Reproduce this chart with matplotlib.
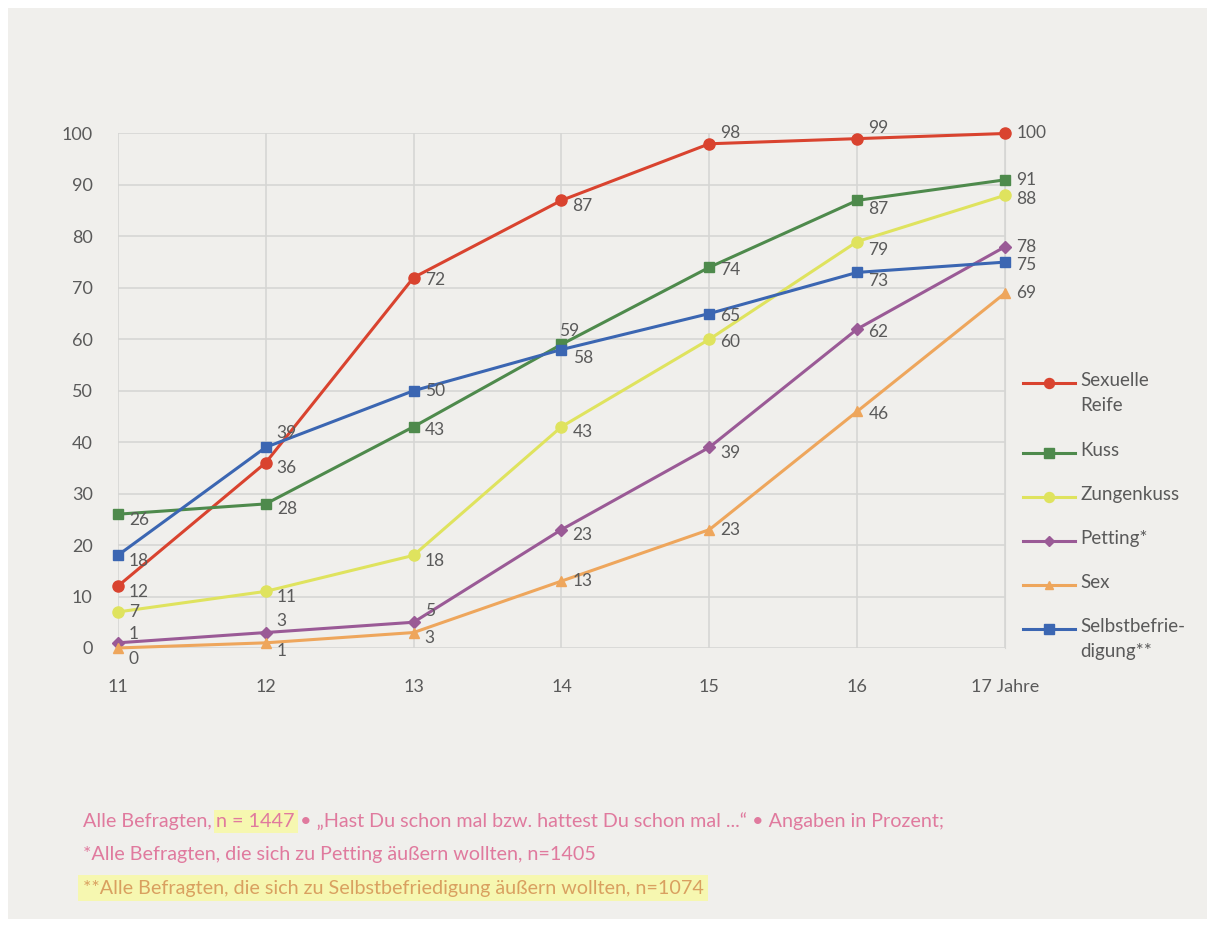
import matplotlib
matplotlib.use("Agg")
import matplotlib.pyplot as plt
from matplotlib.patches import Rectangle
from matplotlib.lines import Line2D

plt.rcParams['font.family'] = ['Lato', 'DejaVu Sans']

ages = [11, 12, 13, 14, 15, 16, 17]
age_labels = ['11', '12', '13', '14', '15', '16', '17 Jahre']

reife = [12, 36, 72, 87, 98, 99, 100]
kuss = [26, 28, 43, 59, 74, 87, 91]
zungenkuss = [7, 11, 18, 43, 60, 79, 88]
petting = [1, 3, 5, 23, 39, 62, 78]
sex = [0, 1, 3, 13, 23, 46, 69]
selbst = [18, 39, 50, 58, 65, 73, 75]

names = ['Sexuelle\nReife', 'Kuss', 'Zungenkuss', 'Petting*', 'Sex', 'Selbstbefrie-\ndigung**']
series = [reife, kuss, zungenkuss, petting, sex, selbst]
colors = ['#d9432f', '#4e8a4c', '#dfe35e', '#9a5a96', '#eea65c', '#3b66b2']
markers = ['o', 's', 'o', 'D', '^', 's']
msizes = [8, 7.5, 8, 6, 7, 7.5]

# label offsets in points (dx, dy) for each point of each series
offs = [
    [(8, -4), (8, -4), (8, -2), (8, -4), (8, 8), (8, 8), (8, 0)],
    [(8, -4), (8, -4), (8, -2), (-2, 10), (8, -2), (8, -6), (8, 0)],
    [(8, 0), (8, -4), (8, -4), (8, -4), (8, -2), (8, -6), (8, -3)],
    [(8, 6), (8, 8), (8, 8), (8, -4), (8, -4), (8, -2), (8, 0)],
    [(8, -8), (8, -6), (8, -4), (8, 0), (8, 0), (8, -2), (8, 0)],
    [(8, -4), (8, 10), (8, 0), (8, -6), (8, -2), (8, -6), (8, -2)],
]

W, H = 1214, 927
fig = plt.figure(figsize=(W / 100, H / 100), dpi=100)
fig.patch.set_facecolor('white')
fig.patches.append(Rectangle((0.007, 0.009), 0.987, 0.982, transform=fig.transFigure,
                             facecolor='#f0efec', edgecolor='none', zorder=-10))

ax = fig.add_axes([0.097, 0.301, 0.731, 0.555])
ax.patch.set_alpha(0)

for vals, name, c, m, ms, off in zip(series, names, colors, markers, msizes, offs):
    ax.plot(ages, vals, color=c, marker=m, markersize=ms, linewidth=2.2,
            label=name, clip_on=False, zorder=3)
    for x, v, (dx, dy) in zip(ages, vals, off):
        ax.annotate(str(v), (x, v), xytext=(dx, dy), textcoords='offset points',
                    ha='left', va='center', fontsize=12.5, color='#5a5a5a', zorder=4)

ax.set_xlim(11, 17)
ax.set_ylim(0, 100)
ax.set_xticks(ages)
ax.set_xticklabels(age_labels)
ax.set_yticks(range(0, 101, 10))
ax.grid(True, color='#d6d6d4', linewidth=1.2)
ax.set_axisbelow(True)
for s in ax.spines.values():
    s.set_visible(False)
ax.spines['right'].set_visible(True)
ax.spines['right'].set_color('#d6d6d4')
ax.tick_params(length=0, labelsize=13, labelcolor='#5a5a5a')
ax.tick_params(axis='x', pad=22)
ax.tick_params(axis='y', pad=18)

# legend on the right, handle aligned with the first text line
leg_y = [383, 453, 497, 541, 585, 629]
for yy, name, c, m, ms in zip(leg_y, names, colors, markers, msizes):
    yf = 1 - yy / H
    fig.add_artist(Line2D([1023 / W, 1075 / W], [yf, yf], color=c, linewidth=2.2))
    fig.add_artist(Line2D([1049 / W], [yf], color=c, marker=m, markersize=ms * 0.9))
    fig.text(1080 / W, yf + 11 / H, name, fontsize=13.5, color='#5a5a5a',
             va='top', linespacing=1.55)

pink = '#e07a9e'
fs = 14.2
r = fig.canvas.get_renderer()
t1 = fig.text(0.068, 0.108, 'Alle Befragten, ', fontsize=fs, color=pink)
x1 = fig.transFigure.inverted().transform(t1.get_window_extent(r))[1, 0]
t2 = fig.text(x1, 0.108, 'n = 1447', fontsize=fs, color=pink,
              bbox=dict(facecolor='#f6f7b0', edgecolor='none', pad=2))
x2 = fig.transFigure.inverted().transform(t2.get_window_extent(r))[1, 0]
fig.text(x2, 0.108, ' \u2022 \u201eHast Du schon mal bzw. hattest Du schon mal ...\u201c \u2022 Angaben in Prozent;',
         fontsize=fs, color=pink)
fig.text(0.068, 0.072, '*Alle Befragten, die sich zu Petting \u00e4u\u00dfern wollten, n=1405',
         fontsize=fs, color=pink)
fig.text(0.068, 0.036, '**Alle Befragten, die sich zu Selbstbefriedigung \u00e4u\u00dfern wollten, n=1074',
         fontsize=fs, color='#d9a060',
         bbox=dict(facecolor='#f6f7b0', edgecolor='none', pad=3))

fig.savefig('out.png', dpi=100, facecolor=fig.get_facecolor())
